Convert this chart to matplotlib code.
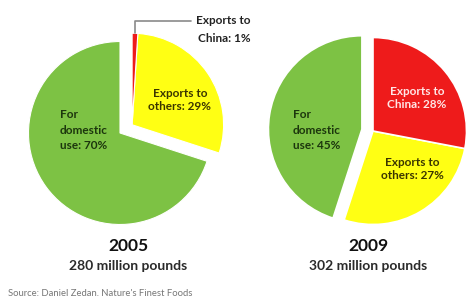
import numpy as np
import matplotlib.pyplot as plt

plt.rcParams["font.family"] = ["Lato", "DejaVu Sans"]

# data: shares in percent, counter-clockwise from 12 o'clock
years = ["2005", "2009"]
totals = ["280 million pounds", "302 million pounds"]
shares_2005 = [70, 29, 1]   # domestic, others, china
shares_2009 = [45, 27, 28]  # domestic, others, china
labels_2005 = ["For\ndomestic\nuse: 70%", "Exports to\nothers: 29%", "Exports to\nChina: 1%"]
labels_2009 = ["For\ndomestic\nuse: 45%", "Exports to\nothers: 27%", "Exports to\nChina: 28%"]
source = "Source: Daniel Zedan, Nature's Finest Foods"

GREEN = "#7dc244"
YELLOW = "#ffff14"
RED = "#ee1b1b"
W, H = 470, 296

fig = plt.figure(figsize=(W / 100, H / 100), dpi=100)
ax = fig.add_axes([0, 0, 1, 1])


def shift(w, c, r, frac):
    mid = np.deg2rad(0.5 * (w.theta1 + w.theta2))
    w.set_center((c[0] + frac * r * np.cos(mid), c[1] + frac * r * np.sin(mid)))


# 2005 pie
c1, r1 = (120, H - 133), 91.5
w1, _ = ax.pie(shares_2005, colors=[GREEN, YELLOW, RED], startangle=90,
               counterclock=True, radius=r1, center=c1,
               wedgeprops=dict(edgecolor="white", linewidth=0.8))
shift(w1[1], c1, r1, 0.16)
w1[2].set_center(w1[1].center)

# 2009 pie
c2, r2 = (373, H - 131), 93.5
w2, _ = ax.pie(shares_2009, colors=[GREEN, YELLOW, RED], startangle=90,
               counterclock=True, radius=r2, center=c2,
               wedgeprops=dict(edgecolor="white", linewidth=1.2))
shift(w2[0], c2, r2, 0.12)

fs = 8.5
ax.text(60, H - 130, labels_2005[0], ha="left", va="center", fontsize=fs,
        fontweight="bold", color="#1c360d", linespacing=1.45)
ax.text(180, H - 100, labels_2005[1], ha="center", va="center", fontsize=fs,
        fontweight="bold", color="#3a3500", linespacing=1.3)
ax.text(293, H - 130, labels_2009[0], ha="left", va="center", fontsize=fs,
        fontweight="bold", color="#1c360d", linespacing=1.45)
ax.text(412, H - 169, labels_2009[1], ha="center", va="center", fontsize=fs,
        fontweight="bold", color="#3a3500", linespacing=1.3)
ax.text(417, H - 98, labels_2009[2], ha="center", va="center", fontsize=fs,
        fontweight="bold", color="#ffe6e6", linespacing=1.3)

# leader for the 1% slice
red = w1[2]
tip_ang = np.deg2rad(0.5 * (red.theta1 + red.theta2))
tip = (red.center[0] + red.r * np.cos(tip_ang), red.center[1] + red.r * np.sin(tip_ang))
head, tail = labels_2005[2].split("\n")
ax.annotate(head, xy=tip, xytext=(251, H - 21), ha="right", va="center",
            fontsize=fs, fontweight="bold", color="#222222",
            arrowprops=dict(arrowstyle="-", color="#8a8a8a", lw=1.2,
                            connectionstyle="angle,angleA=0,angleB=90,rad=0",
                            shrinkA=2, shrinkB=0))
ax.text(251, H - 38, tail, ha="right", va="center", fontsize=fs,
        fontweight="bold", color="#222222")

for x, yr, tot in zip([128, 368], years, totals):
    ax.text(x, H - 246, yr, ha="center", va="center", fontsize=12.5,
            fontweight="bold", color="#111111")
    ax.text(x, H - 266, tot, ha="center", va="center", fontsize=10,
            fontweight="bold", color="#2a2a2a")

ax.text(8, H - 293, source, ha="left", va="center", fontsize=6.8, color="#777777")

ax.set_xlim(0, W)
ax.set_ylim(0, H)
ax.set_aspect("equal")
ax.axis("off")
fig.savefig("out.png", dpi=100, facecolor="white")
